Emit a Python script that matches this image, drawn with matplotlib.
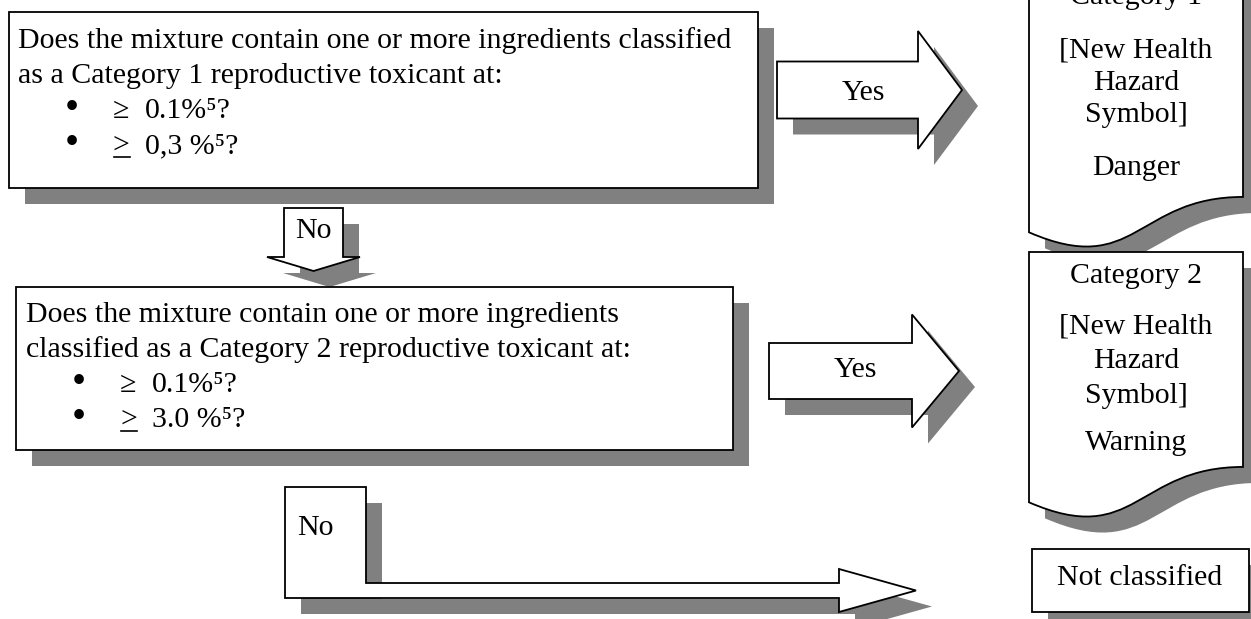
"""Decision flowchart: classification of mixtures as reproductive toxicants."""

import matplotlib
matplotlib.use('Agg')
import matplotlib.pyplot as plt
from matplotlib.patches import Polygon, PathPatch
from matplotlib.path import Path

plt.rcParams['font.family'] = ['Liberation Serif', 'DejaVu Serif']

# ── Content ─────────────────────────────────────────────────────────────────
q1_lines = ['Does the mixture contain one or more ingredients classified',
            'as a Category 1 reproductive toxicant at:']
q1_signs = ['≥', '>']
q1_values = ['0.1%⁵?', '0,3 %⁵?']
q2_lines = ['Does the mixture contain one or more ingredients',
            'classified as a Category 2 reproductive toxicant at:']
q2_signs = ['≥', '>']
q2_values = ['0.1%⁵?', '3.0 %⁵?']
underlined = [False, True]          # second sign is an underlined ">"
cat1_label = ['Category 1', '[New Health', 'Hazard', 'Symbol]', 'Danger']
cat2_label = ['Category 2', '[New Health', 'Hazard', 'Symbol]', 'Warning']
yes_label = 'Yes'
no_label = 'No'
last_label = 'Not classified'

# ── Canvas in pixel units ───────────────────────────────────────────────────
W, H = 1251, 619
fig = plt.figure(figsize=(12.51, 6.19), dpi=100)
ax = fig.add_axes([0, 0, 1, 1])
ax.set_xlim(0, W)
ax.set_ylim(H, 0)
ax.axis('off')

FS = 21.5
SH = 16
SHADOW = '#808080'
LW = 1.3


def poly(verts):
    ax.add_patch(Polygon([(x + SH, y + SH) for x, y in verts], closed=True,
                         fc=SHADOW, ec='none', zorder=1))
    ax.add_patch(Polygon(verts, closed=True, fc='white', ec='black',
                         lw=LW, joinstyle='miter', zorder=2))


def box(x0, y0, x1, y1):
    poly([(x0, y0), (x1, y0), (x1, y1), (x0, y1)])


def right_arrow(x0, xh, xt, yc, body, head):
    poly([(x0, yc - body), (xh, yc - body), (xh, yc - head), (xt, yc),
          (xh, yc + head), (xh, yc + body), (x0, yc + body)])


def document(x0, x1, top, h):
    mid = (x0 + x1) / 2
    def verts(dx, dy):
        return [(x0 + dx, top + dy), (x1 + dx, top + dy),
                (x1 + dx, top + 0.802 * h + dy),
                (mid + dx, top + 0.802 * h + dy), (mid + dx, top + 1.107 * h + dy),
                (x0 + dx, top + 0.934 * h + dy), (x0 + dx, top + dy)]
    codes = [Path.MOVETO, Path.LINETO, Path.LINETO, Path.CURVE4, Path.CURVE4,
             Path.CURVE4, Path.CLOSEPOLY]
    ax.add_patch(PathPatch(Path(verts(SH, SH), codes), fc=SHADOW, ec='none', zorder=1))
    ax.add_patch(PathPatch(Path(verts(0, 0), codes), fc='white', ec='black',
                           lw=LW, zorder=2))


def question(lines, signs, values, x_text, x_bullet, x_sign, x_val, y0):
    ys = [y0 + i * 35 for i in range(len(lines) + len(signs))]
    for line, y in zip(lines, ys):
        ax.text(x_text, y, line, fontsize=FS, va='baseline', ha='left', zorder=3)
    for sign, val, ul, y in zip(signs, values, underlined, ys[len(lines):]):
        ax.text(x_bullet, y + 1, '•', fontsize=FS * 1.35, va='baseline',
                ha='center', zorder=3)
        ax.text(x_sign, y, sign, fontsize=FS, va='baseline', ha='left', zorder=3)
        ax.text(x_val, y, val, fontsize=FS, va='baseline', ha='left', zorder=3)
        if ul:
            ax.plot([x_sign + 1, x_sign + 17], [y + 4, y + 4], color='black',
                    lw=1.2, zorder=3)


# ── Question 1 ──────────────────────────────────────────────────────────────
box(9, 12, 758, 188)
question(q1_lines, q1_signs, q1_values, 18, 72, 113, 145, 48)

right_arrow(777, 918, 962, 90, 28.5, 59)
ax.text(863, 100, yes_label, fontsize=FS, ha='center', va='baseline', zorder=3)

document(1029, 1243, -18, 268)
for lab, y in zip(cat1_label, [4, 57, 90, 122, 175]):
    ax.text(1136, y, lab, fontsize=FS, ha='center', va='baseline', zorder=3)

# "No" down arrow
poly([(284, 208), (343, 208), (343, 257), (360, 257), (313.5, 271),
      (267, 257), (284, 257)])
ax.text(313, 238, no_label, fontsize=FS, ha='center', va='baseline', zorder=3)

# ── Question 2 ──────────────────────────────────────────────────────────────
box(16, 287, 733, 450)
question(q2_lines, q2_signs, q2_values, 26, 79, 120, 152, 322)

right_arrow(769, 912, 959, 371, 28, 56.5)
ax.text(855, 377, yes_label, fontsize=FS, ha='center', va='baseline', zorder=3)

document(1029, 1243, 252, 268)
for lab, y in zip(cat2_label, [283, 333, 368, 403, 450]):
    ax.text(1136, y, lab, fontsize=FS, ha='center', va='baseline', zorder=3)

# Bent "No" arrow
poly([(285, 487), (366, 487), (366, 583), (839, 583), (839, 569),
      (916, 590.5), (839, 612), (839, 598), (285, 598)])
ax.text(297, 535, no_label, fontsize=FS, ha='left', va='baseline', zorder=3)

box(1032, 549, 1249, 612)
ax.text(1140, 585, last_label, fontsize=FS, ha='center', va='baseline', zorder=3)

plt.savefig('out.png', dpi=100)
plt.close()
